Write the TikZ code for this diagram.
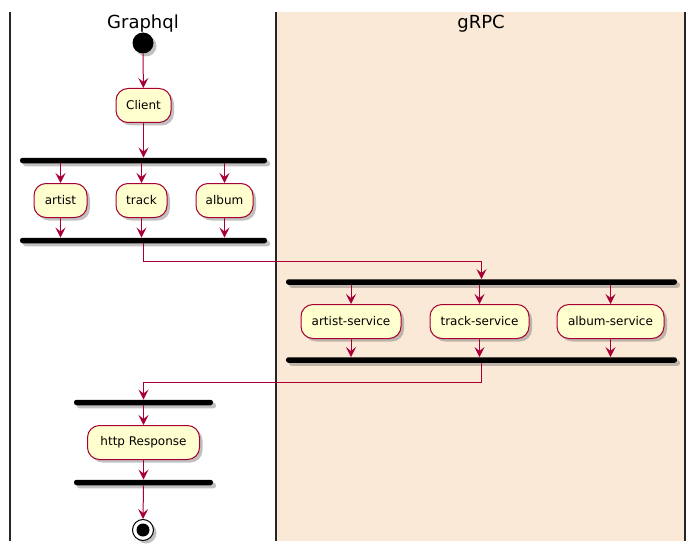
\documentclass[tikz,border=0pt]{standalone}
\usepackage{fontspec}
\setmainfont{DejaVu Sans}
\usetikzlibrary{arrows.meta,shadows}
\definecolor{pborder}{HTML}{A80036}
\definecolor{pfill}{HTML}{FEFECE}
\definecolor{lanebg}{HTML}{FAE9D6}
\begin{document}
\begin{tikzpicture}[x=1pt,y=-1pt,
  shad/.style={drop shadow={shadow xshift=3pt,shadow yshift=-3pt,opacity=0.4,fill=black!60}},
  act/.style={draw=pborder, fill=pfill, rounded corners=12pt, minimum height=34pt, inner sep=0pt,
    font=\fontsize{12}{14}\selectfont, line width=1pt, shad},
  bar/.style={fill=black, rounded corners=2.5pt, minimum height=5.5pt, inner sep=0pt, shad},
  flow/.style={draw=pborder, line width=1pt, -{Stealth[length=10pt,width=10pt,inset=4pt]}},
  lane/.style={line width=1.5pt, draw=black!85},
  title/.style={font=\fontsize{18}{20}\selectfont}]
\useasboundingbox (0,0) rectangle (697,551);
\fill[white] (0,0) rectangle (697,551);
\fill[lanebg] (277,12) rectangle (685,541);
\draw[lane] (10,12) -- (10,541);
\draw[lane] (276,12) -- (276,541);
\draw[lane] (685,12) -- (685,541);
\node[title] (tg) at (143,24) {Graphql};
\node[title] (tr) at (481,24) {gRPC};

\node[circle, fill=black, minimum size=21pt, inner sep=0pt, shad] (start) at (143,43) {};
\node[act, minimum width=55pt] (client) at (143.5,105.5) {Client};
\node[bar, minimum width=247pt] (fork1) at (143.5,160.5) {};
\node[act, minimum width=53pt] (artist) at (60.5,200.5) {artist};
\node[act, minimum width=51pt] (track) at (141.5,200.5) {track};
\node[act, minimum width=57pt] (album) at (224.5,200.5) {album};
\node[bar, minimum width=247pt] (join1) at (143.5,240.5) {};
\coordinate (t1) at (143.5,261);
\node[bar, minimum width=391pt] (fork2) at (481.5,282) {};
\node[act, minimum width=100pt] (aserv) at (351,321.5) {artist-service};
\node[act, minimum width=99pt] (tserv) at (479.5,321.5) {track-service};
\node[act, minimum width=107pt] (alserv) at (610.5,321.5) {album-service};
\node[bar, minimum width=391pt] (join2) at (481.5,360) {};
\coordinate (t2) at (481.5,382);
\node[bar, minimum width=139pt] (fork3) at (143.5,402.5) {};
\node[act, minimum width=112pt] (http) at (143.5,442.5) {http Response};
\node[bar, minimum width=139pt] (join3) at (143.5,482.5) {};
\node[circle, draw=black, line width=1pt, fill=white, minimum size=21pt, inner sep=0pt, shad] (stop) at (143,530) {};
\node[circle, fill=black, minimum size=13pt, inner sep=0pt] (stopin) at (stop.center) {};

\draw[flow] (start) -- (client);
\draw[flow] (client.south) -- (client.south |- fork1.north);
\foreach \n in {artist,track,album} {
  \draw[flow] (fork1.south -| \n.north) -- (\n.north);
  \draw[flow] (\n.south) -- (\n.south |- join1.north);
}
\draw[flow] (join1.south) -- (t1) -| (fork2.north);
\foreach \n in {aserv,tserv,alserv} {
  \draw[flow] (fork2.south -| \n.north) -- (\n.north);
  \draw[flow] (\n.south) -- (\n.south |- join2.north);
}
\draw[flow] (join2.south) -- (t2) -| (fork3.north);
\draw[flow] (fork3.south) -- (http.north);
\draw[flow] (http.south) -- (http.south |- join3.north);
\draw[flow] (join3.south) -- (stop.north);
\end{tikzpicture}
\end{document}
